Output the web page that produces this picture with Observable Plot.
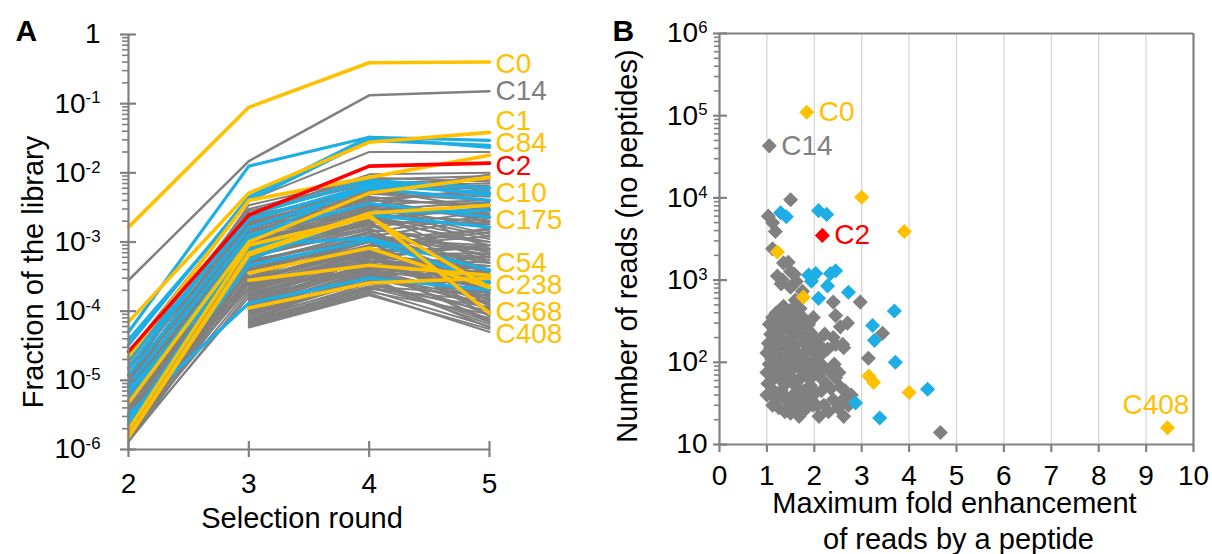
<!DOCTYPE html>
<html><head><meta charset="utf-8">
<script src="https://cdn.jsdelivr.net/npm/d3@7"></script>
<script src="https://cdn.jsdelivr.net/npm/@observablehq/plot@0.6"></script>
<style>
html,body{margin:0;padding:0;background:#fff;overflow:hidden;}
#wrap{display:flex;width:1212px;height:554px;}
</style></head><body><div id="wrap"></div>
<script>
// ---------------- DATA ----------------
const rounds = [2, 3, 4, 5];

// Panel A: fraction of the library at selection rounds 2..5 (null = not detected)
const grayClones = [
  [1.4e-6, 1.6e-4, 4e-4, 1.5e-4], [1.6e-6, 2e-4, 6e-4, 3e-4], [1.8e-6, 2.5e-4, 5e-4, 2e-4],
  [2e-6, 3e-4, 8e-4, 6e-4], [2.2e-6, 2.2e-4, 7e-4, 1e-4], [2.5e-6, 4e-4, 1e-3, 5e-4],
  [2.8e-6, 3.5e-4, 9e-4, 1.2e-3], [3e-6, 5e-4, 1.2e-3, 8e-4], [3.3e-6, 4.5e-4, 6e-4, 2.5e-4],
  [3.6e-6, 6e-4, 1.5e-3, 1e-3], [4e-6, 7e-4, 1.3e-3, 4e-4], [4.5e-6, 5.5e-4, 1.1e-3, 1.5e-3],
  [5e-6, 8e-4, 2e-3, 1.8e-3], [5.5e-6, 9e-4, 1.7e-3, 7e-4], [6e-6, 1e-3, 2.5e-3, 2e-3],
  [7e-6, 1.1e-3, 2.2e-3, 3e-3], [8e-6, 1.3e-3, 3e-3, 2.5e-3], [9e-6, 1.2e-3, 2.8e-3, 1.2e-3],
  [1e-5, 1.5e-3, 3.5e-3, 4e-3], [1.2e-5, 1.8e-3, 4e-3, 3.5e-3], [1.4e-5, 2e-3, 5e-3, 5e-3],
  [1.6e-5, 2.3e-3, 6e-3, 6e-3], [1.8e-5, 2.6e-3, 7e-3, 8e-3], [2e-5, 3e-3, 8e-3, 9e-3],
  [2.5e-5, 4e-3, 2e-2, 2e-2], [1e-5, 2.5e-3, 9.5e-3, 1e-2], [6e-6, 1.4e-3, 4.5e-3, 3e-3],
  [4e-6, 9e-4, 2.4e-3, 1.1e-3], [3e-6, 6.5e-4, 1.8e-3, 6e-4], [2.4e-6, 5e-4, 1.4e-3, 3.5e-4],
  [2e-6, 4e-4, 1.2e-3, 2.2e-3], [1.7e-6, 3e-4, 7e-4, 9e-4], [1.5e-6, 2.6e-4, 8.5e-4, 1.6e-3],
  [1.3e-6, 1.8e-4, 4.5e-4, 7e-5], [1.9e-6, 3.2e-4, 1e-3, 1.4e-4], [2.7e-6, 4.2e-4, 6.5e-4, 4.5e-4],
  [3.5e-6, 7.5e-4, 1.6e-3, 2.8e-3], [5e-6, 1e-3, 3.2e-3, 1.3e-3], [7e-6, 1.6e-3, 3.8e-3, 6e-3],
  [9e-6, 2e-3, 4.2e-3, 2e-3], [1.1e-5, 2.2e-3, 5.5e-3, 4.5e-3], [8e-6, 1.7e-3, 6.5e-3, 7e-3],
  [1.3e-6, 2.8e-4, 9e-4, 1.4e-3], [1.5e-6, 3.8e-4, 1.1e-3, 9e-4], [1.7e-6, 4.8e-4, 1.4e-3, 2.4e-3],
  [1.9e-6, 5.8e-4, 1.9e-3, 1.9e-3], [2.1e-6, 7e-4, 2.1e-3, 3.2e-3], [2.3e-6, 8.5e-4, 2.6e-3, 2.6e-3],
  [2.6e-6, 9.5e-4, 2.9e-3, 3.8e-3], [2.9e-6, 1.15e-3, 3.4e-3, 2.2e-3], [3.2e-6, 1.35e-3, 4.2e-3, 5.5e-3],
  [3.8e-6, 1.55e-3, 5e-3, 4e-3], [4.2e-6, 1.8e-3, 6e-3, 6.5e-3], [4.8e-6, 2.1e-3, 5.8e-3, 3e-3],
  [5.2e-6, 1.9e-3, 4.6e-3, 8e-4], [5.8e-6, 1.25e-3, 3.3e-3, 1.6e-3], [6.5e-6, 1.05e-3, 2.7e-3, 5e-4],
  [7.5e-6, 8.5e-4, 2.3e-3, 9e-4], [8.5e-6, 7.2e-4, 1.9e-3, 3.8e-4], [1e-5, 6.2e-4, 1.6e-3, 1.8e-4],
  [1.3e-6, 5.2e-4, 1.3e-3, 6.5e-4], [1.6e-6, 4.4e-4, 1.15e-3, 2.8e-4], [2.2e-6, 3.6e-4, 1.05e-3, 1.25e-4],
  [3e-6, 2.8e-4, 7.5e-4, 8.5e-5], [4e-6, 2.2e-4, 6.2e-4, 4e-4], [1.5e-5, 2.8e-3, 7.5e-3, 5e-3],
  [1.2e-5, 3.4e-3, 8.5e-3, 7.5e-3], [9e-6, 2.4e-3, 5.2e-3, 9.5e-3], [2.2e-5, 1.2e-3, 2.1e-3, 1e-3],
  [null, 6e-5, 1.8e-4, 5e-5], [null, 6.5e-5, 2e-4, 6e-5], [null, 7e-5, 2.2e-4, 8e-5],
  [null, 7.5e-5, 2.5e-4, 1e-4], [null, 8e-5, 2.8e-4, 7e-5], [null, 8.5e-5, 3e-4, 1.3e-4],
  [null, 9e-5, 3.3e-4, 1.8e-4], [null, 1e-4, 3.6e-4, 9e-5], [null, 1.05e-4, 4e-4, 2.2e-4],
  [null, 1.1e-4, 3.8e-4, 1.1e-4], [null, 1.2e-4, 4.2e-4, 2.8e-4], [null, 1.3e-4, 5e-4, 1.6e-4],
  [null, 1.4e-4, 4.8e-4, 3.5e-4], [null, 1.5e-4, 5.5e-4, 2.5e-4], [null, 1.6e-4, 6e-4, 5e-4],
  [null, 1.7e-4, 6.5e-4, 1.2e-4], [null, 1.8e-4, 5.2e-4, 4e-4], [null, 2e-4, 7e-4, 3e-4],
  [null, 2.2e-4, 7.5e-4, 8e-4], [null, 2.4e-4, 8e-4, 2e-4], [null, 9.5e-5, 2.6e-4, 6.5e-5],
  [null, 1.15e-4, 3.2e-4, 1.5e-4], [null, 1.35e-4, 4.4e-4, 6e-4], [null, 7e-5, 3.5e-4, 3.2e-4],
  [null, 1.25e-4, 5.8e-4, 9e-4], [null, 8e-5, 2.3e-4, 1.7e-4], [null, 2.6e-4, 9e-4, 5.5e-4],
  [null, 3e-4, 1.1e-3, 7.5e-4], [null, 5.8e-5, 1.7e-4, 5.5e-5], [null, 6.2e-5, 1.9e-4, 9e-5],
  [null, 6.8e-5, 2.1e-4, 1.4e-4], [null, 8.8e-5, 2.7e-4, 2.6e-4], [null, 9.8e-5, 3.1e-4, 5.8e-5],
  [null, 1.08e-4, 3.4e-4, 1.9e-4], [null, 1.18e-4, 3.7e-4, 3.8e-4], [null, 1.28e-4, 4.1e-4, 7.5e-5],
  [null, 1.45e-4, 4.6e-4, 2.1e-4], [null, 1.65e-4, 5.4e-4, 4.5e-4], [null, 1.9e-4, 6.2e-4, 1.05e-4],
  [null, 2.1e-4, 6.8e-4, 6.8e-4], [null, 2.3e-4, 7.2e-4, 3.4e-4], [null, 7.2e-5, 2.2e-4, 1.15e-4]
];
const c14Clone = [2.8e-4, 0.0148, 0.132, 0.151];
const blueClones = [
  [5.0e-5, 1.25e-2, 3.27e-2, 2.95e-2], [3.84e-5, 4.0e-3, 2.95e-2, 2.5e-2], [3.25e-5, 4.45e-3, 3.27e-2, 2.34e-2],
  [1.51e-5, 2.45e-3, 7.8e-3, 6.0e-3], [1.2e-5, 1.6e-3, 6.0e-3, 4.0e-3], [8.6e-6, 1.26e-3, 3.6e-3, 2.3e-3],
  [6.6e-6, 7.6e-4, 2.45e-3, 1.64e-3], [5.2e-6, 1.07e-3, 7.3e-3, 4.8e-3], [3.2e-6, 1.3e-4, 3.0e-4, 2.03e-4],
  [2.3e-6, 9.0e-4, 1.14e-3, 3.9e-4], [2.0e-5, 2.1e-3, 6.6e-3, 5.2e-3], [7.3e-6, 5.5e-4, 2.6e-3, 2.9e-3],
  [2.7e-6, 4.6e-4, 1.07e-3, 2.6e-4]
];
const orangeClones = [
  [1.64e-3, 0.0885, 0.39, 0.40],        // C0
  [7.0e-5, 5.1e-3, 2.77e-2, 3.85e-2],   // C1
  [2.2e-5, 4.0e-3, 8.6e-3, 1.8e-2],     // C84
  [4.7e-6, 1.0e-3, 5.1e-3, 8.6e-3],     // C10
  [1.53e-6, 6.9e-4, 2.6e-3, 3.4e-3],    // C175
  [1.93e-6, 9.0e-4, 2.3e-3, 2.2e-4],
  [1.5e-6, 6.5e-4, 2.45e-3, 9.4e-5],
  [null, 3.56e-4, 8.2e-4, 2.2e-4],
  [null, 2.8e-4, 4.6e-4, 3.3e-4],
  [null, 1.11e-4, 2.55e-4, 3.0e-4]
];
const c2Clone = [2.6e-5, 2.45e-3, 0.0125, 0.0138];

const cloneLabels = ["C0", "C14", "C1", "C84", "C2", "C10", "C175", "C54", "C238", "C368", "C408"];
const cloneLabelSets = ["orange", "gray", "orange", "orange", "red", "orange", "orange", "orange", "orange", "orange", "orange"];
const cloneLabelFractions = [0.38, 0.15, 0.057, 0.027, 0.0125, 0.0051, 0.0021, 5e-4, 2.4e-4, 9.8e-5, 4.6e-5];

const yTicksA = [1e-6, 1e-5, 1e-4, 1e-3, 1e-2, 1e-1, 1];

// Panel B: [maximum fold enhancement, number of reads]
const grayPoints = [
  [1.5,9500],[1.03,6000],[1.12,5000],[1.18,3900],[1.12,2400],
  [1.35,1620],[1.45,1650],[1.5,1270],[1.33,1000],[1.22,1120],[1.58,1180],[1.62,960],[1.3,900],[1.5,820],[1.75,730],
  [1.6,570],[1.35,480],[2.4,540],[2.97,540],[2.45,370],[1.98,350],[3.44,225],[3.14,112],[4.66,14],[2.62,150],[2.45,165],
  [1.0,40],[1.02,55],[1.0,75],[1.05,95],[1.0,130],[1.03,170],[1.08,220],[1.05,290],[1.12,350],[1.15,260],[1.12,190],[1.15,145],
  [1.1,110],[1.12,80],[1.1,60],[1.15,45],[1.2,35],[1.25,28],[1.22,70],[1.25,100],[1.22,125],[1.28,165],[1.25,230],[1.3,310],
  [1.2,400],[1.3,45],[1.3,60],
  [1.38,25],[1.45,33],[1.5,24],[1.55,40],[1.62,28],[1.68,22],[1.72,34],[1.78,45],[1.82,27],[1.88,37],[1.92,52],[1.97,30],[2.02,42],
  [1.4,55],[1.5,68],[1.6,52],[1.7,63],[1.8,78],[1.9,62],[2.0,82],[1.45,92],[1.55,115],[1.65,88],[1.75,125],[1.85,100],[1.95,135],[2.05,105],
  [1.4,150],[1.5,185],[1.6,160],[1.7,215],[1.8,170],[1.92,230],[1.45,250],[1.55,310],[1.65,265],[1.78,340],[1.5,430],[1.62,380],
  [1.88,290],[1.38,350],[1.7,450],
  [2.1,22],[2.2,30],[2.3,25],[2.4,35],[2.5,28],[2.62,22],[2.72,30],[2.78,40],[2.15,45],[2.25,55],[2.35,48],[2.45,65],[2.55,50],
  [2.65,45],[2.1,68],[2.2,88],[2.32,78],[2.42,95],[2.52,75],[2.15,125],[2.28,145],[2.05,185],[2.22,220],[2.4,200],[2.6,165],
  [2.55,270],[2.7,300],
  [1.08,150],[1.18,90],[1.35,75],[1.42,120],[1.58,140],[1.68,110],[1.85,140],[1.98,180],[1.3,200],[1.4,280],[1.6,220],
  [1.75,280],[1.9,190],[1.55,85],[1.95,100],[2.12,160],[1.65,330],[1.35,40],[1.62,38],[2.6,35],[2.05,30],[1.12,30]
];
const bluePoints = [
  [1.29,6600],[1.41,5900],[2.09,7000],[2.26,6300],
  [1.88,1150],[2.03,1200],[2.34,1200],[2.45,1300],[1.94,970],[2.28,850],[2.72,710],[2.09,600],
  [3.69,420],[3.23,280],[3.27,185],[3.71,100],[4.39,47],[2.87,32],[3.38,21]
];
const orangePoints = [
  [1.84,110000],[3.0,10200],[3.9,3900],[1.22,2200],[1.77,620],[3.15,68],[3.25,57],[4.0,43],[9.45,16]
];
const redPoints = [[2.17,3500]];
const c14Point = [1.05, 43000];

const pointLabels = ["C0", "C14", "C2", "C408"];
const pointLabelSets = ["orange", "gray", "red", "orange"];
const pointLabelXY = [[1.84,110000],[1.05,43000],[2.17,3500],[9.45,16]];

const xTicksB = [0,1,2,3,4,5,6,7,8,9,10];
const yTicksB = [10, 1e2, 1e3, 1e4, 1e5, 1e6];

// ---------------- STYLE ----------------
const FONT = '"Liberation Sans", Arimo, Arial, Helvetica, sans-serif';
const COLORS = {orange: "#FFC000", blue: "#1EAEE6", gray: "#808080", red: "#FF0000"};
const AXIS = "#808080";

function rowsOf(series, prefix) {
  const rows = [];
  series.forEach((s, i) => s.forEach((v, j) => {
    if (v != null) rows.push({id: prefix + i, round: rounds[j], value: v});
  }));
  return rows;
}
function minorTicks(majors) {
  const out = [];
  for (let k = 0; k < majors.length - 1; k++)
    for (let m = 2; m <= 9; m++) out.push(majors[k] * m);
  return out;
}
function supify(svg) {
  d3.select(svg).selectAll("text").each(function () {
    const t = this.textContent;
    const m = /^10\^(.+)$/.exec(t);
    if (m) {
      this.textContent = "10";
      d3.select(this).append("tspan").attr("font-size", "0.6em").attr("dy", "-0.55em").text(m[1]);
    }
  });
}

// ---------------- PANEL A ----------------
const fmtA = d => d === 1 ? "1" : "10^" + Math.round(Math.log10(d));
const labelRowsA = cloneLabels.map((n, i) => ({name: n, set: cloneLabelSets[i], f: cloneLabelFractions[i]}));

const plotA = Plot.plot({
  width: 600, height: 554,
  marginLeft: 128, marginRight: 111, marginTop: 34, marginBottom: 105,
  style: {fontFamily: FONT, fontSize: "28px", color: "black", background: "white", overflow: "visible"},
  x: {domain: [2, 5]},
  y: {type: "log", domain: [1e-6, 1]},
  marks: [
    Plot.line(rowsOf(grayClones, "g"), {x: "round", y: "value", z: "id", stroke: COLORS.gray, strokeWidth: 2}),
    Plot.line(rowsOf([c14Clone], "c14"), {x: "round", y: "value", z: "id", stroke: COLORS.gray, strokeWidth: 2.5}),
    Plot.line(rowsOf(blueClones, "b"), {x: "round", y: "value", z: "id", stroke: COLORS.blue, strokeWidth: 3.2}),
    Plot.line(rowsOf(orangeClones, "o"), {x: "round", y: "value", z: "id", stroke: COLORS.orange, strokeWidth: 3.6}),
    Plot.line(rowsOf([c2Clone], "c2"), {x: "round", y: "value", z: "id", stroke: COLORS.red, strokeWidth: 3.6}),
    // axes
    Plot.ruleX([2], {stroke: AXIS, strokeWidth: 2.2}),
    Plot.ruleY([1e-6], {stroke: AXIS, strokeWidth: 2.2}),
    Plot.ruleY(yTicksA, {y: d => d, x1: () => 2, x2: () => 2, insetLeft: -8, insetRight: -8, stroke: AXIS, strokeWidth: 2.2}),
    Plot.ruleY(minorTicks(yTicksA), {y: d => d, x1: () => 2, x2: () => 2, insetLeft: -6, insetRight: 0, stroke: AXIS, strokeWidth: 1.6}),
    Plot.ruleX(rounds, {x: d => d, y1: () => 1e-6, y2: () => 1e-6, insetTop: -8, insetBottom: -8, stroke: AXIS, strokeWidth: 2.2}),
    Plot.axisY({ticks: yTicksA, tickSize: 0, tickPadding: 28, tickFormat: fmtA, label: null, fontSize: 28}),
    Plot.axisX({ticks: rounds, tickSize: 0, tickPadding: 24, tickFormat: d => String(d), label: null, fontSize: 28}),
    Plot.text(["Selection round"], {text: d => d, frameAnchor: "bottom", textAnchor: "middle", lineAnchor: "middle", dx: -7, dy: 69, fontSize: 29}),
    Plot.text(["Fraction of the library"], {text: d => d, frameAnchor: "left", textAnchor: "middle", lineAnchor: "middle", rotate: -90, dx: -95, dy: 30, fontSize: 29}),
    Plot.text(["A"], {text: d => d, frameAnchor: "top-left", textAnchor: "start", lineAnchor: "middle", dx: -113, dy: -3, fontSize: 30, fontWeight: "bold"}),
    Plot.text(labelRowsA, {x: () => 5, y: "f", text: "name", fill: d => COLORS[d.set], textAnchor: "start", dx: 6, fontSize: 28})
  ]
});
supify(plotA);

// ---------------- PANEL B ----------------
const fmtB = d => d === 10 ? "10" : "10^" + Math.round(Math.log10(d));
const labelRowsB = pointLabels.map((n, i) => ({name: n, set: pointLabelSets[i], fold: pointLabelXY[i][0], reads: pointLabelXY[i][1]}));
const dotOpts = (fill) => ({x: d => d[0], y: d => d[1], symbol: "diamond2", r: 6.8, fill, stroke: "none"});

const plotB = Plot.plot({
  width: 612, height: 554,
  marginLeft: 119, marginRight: 19, marginTop: 33, marginBottom: 110,
  style: {fontFamily: FONT, fontSize: "28px", color: "black", background: "white", overflow: "visible"},
  x: {domain: [0, 10]},
  y: {type: "log", domain: [10, 1e6]},
  marks: [
    Plot.ruleX([1,2,3,4,5,6,7,8,9], {stroke: "#d6d6d6", strokeWidth: 1.3}),
    Plot.ruleY([1e6], {stroke: AXIS, strokeWidth: 2.2}),
    Plot.ruleX([10], {stroke: AXIS, strokeWidth: 2.2}),
    Plot.dot(grayPoints, dotOpts(COLORS.gray)),
    Plot.dot([c14Point], dotOpts(COLORS.gray)),
    Plot.dot(bluePoints, dotOpts(COLORS.blue)),
    Plot.dot(orangePoints, dotOpts(COLORS.orange)),
    Plot.dot(redPoints, dotOpts(COLORS.red)),
    Plot.ruleX([0], {stroke: AXIS, strokeWidth: 2.2}),
    Plot.ruleY([10], {stroke: AXIS, strokeWidth: 2.2}),
    Plot.ruleY(yTicksB, {y: d => d, x1: () => 0, x2: () => 0, insetLeft: -6, insetRight: -8, stroke: AXIS, strokeWidth: 2.2}),
    Plot.ruleY(minorTicks(yTicksB), {y: d => d, x1: () => 0, x2: () => 0, insetLeft: -5, insetRight: -1, stroke: AXIS, strokeWidth: 1.6}),
    Plot.ruleX(xTicksB, {x: d => d, y1: () => 10, y2: () => 10, insetTop: 0, insetBottom: -8, stroke: AXIS, strokeWidth: 2.2}),
    Plot.axisY({ticks: yTicksB, tickSize: 0, tickPadding: 12, tickFormat: fmtB, label: null, fontSize: 28}),
    Plot.axisX({ticks: xTicksB, tickSize: 0, tickPadding: 21, tickFormat: d => String(d), label: null, fontSize: 28}),
    Plot.text(["Number of reads (no peptides)"], {text: d => d, frameAnchor: "left", textAnchor: "middle", lineAnchor: "middle", rotate: -90, dx: -92, dy: 7, fontSize: 29}),
    Plot.text(["Maximum fold enhancement"], {text: d => d, frameAnchor: "bottom", textAnchor: "middle", lineAnchor: "middle", dx: -2, dy: 59, fontSize: 29}),
    Plot.text(["of reads by a peptide"], {text: d => d, frameAnchor: "bottom", textAnchor: "middle", lineAnchor: "middle", dx: 2, dy: 95, fontSize: 29}),
    Plot.text(["B"], {text: d => d, frameAnchor: "top-left", textAnchor: "start", lineAnchor: "middle", dx: -107, dy: -2, fontSize: 30, fontWeight: "bold"}),
    Plot.text(labelRowsB.filter(d => d.name !== "C408"), {x: "fold", y: "reads", text: "name", fill: d => COLORS[d.set], textAnchor: "start", dx: 12, fontSize: 28}),
    Plot.text(labelRowsB.filter(d => d.name === "C408"), {x: "fold", y: "reads", text: "name", fill: d => COLORS[d.set], textAnchor: "end", dx: 22, dy: -23, fontSize: 28})
  ]
});
supify(plotB);

const wrap = document.getElementById("wrap");
wrap.appendChild(plotA);
wrap.appendChild(plotB);
</script>
</body></html>
